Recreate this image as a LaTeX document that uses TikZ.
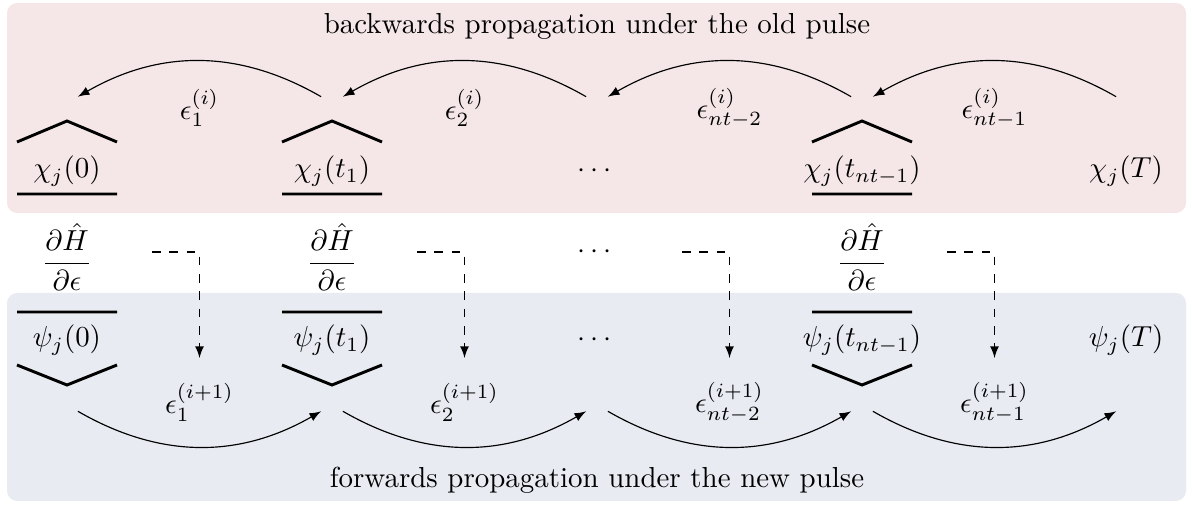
\documentclass[tikz,border=0pt]{standalone}
\usepackage{amsmath}

\definecolor{bwdcol}{RGB}{245,231,232}
\definecolor{fwdcol}{RGB}{232,235,242}

\tikzstyle{bwdbox} = [fill=bwdcol, rounded corners=3.5pt]
\tikzstyle{fwdbox} = [fill=fwdcol, rounded corners=3.5pt]
\tikzstyle{hat} = [line width=1pt]
\tikzstyle{deriv} = [inner sep=0pt]
\tikzstyle{arrowend} = [circle, minimum size=8.3pt, inner sep=0pt]
\tikzstyle{prop} = [->, >=latex, bend right=30]
\tikzstyle{feed} = [->, >=latex, dashed]

\begin{document}
\begin{tikzpicture}[x=0.3456pt, y=-0.3456pt]
\useasboundingbox (0,0) rectangle (1192,505);
% the two regions
\fill[bwdbox] (7,3) rectangle (1186,213);
\fill[fwdbox] (7,293) rectangle (1186,501);
\node[anchor=base] (bwdtitle) at (597,34) {backwards propagation under the old pulse};
\node[anchor=base] (fwdtitle) at (597,488) {forwards propagation under the new pulse};

% backward states
\node[anchor=base] (chi0) at (67,178) {$\chi_j(0)$};
\node[anchor=base] (chi1) at (332,178) {$\chi_j(t_1)$};
\node[anchor=base] (chidots) at (597,178) {$\cdots$};
\node[anchor=base] (chi3) at (862,178) {$\chi_j(t_{nt-1})$};
\node[anchor=base] (chiT) at (1126,178) {$\chi_j(T)$};

% forward states
\node[anchor=base] (psi0) at (67,347) {$\psi_j(0)$};
\node[anchor=base] (psi1) at (332,347) {$\psi_j(t_1)$};
\node[anchor=base] (psidots) at (597,347) {$\cdots$};
\node[anchor=base] (psi3) at (862,347) {$\psi_j(t_{nt-1})$};
\node[anchor=base] (psiT) at (1126,347) {$\psi_j(T)$};

% derivative of the Hamiltonian
\node[deriv] (dH0) at (67,257) {$\dfrac{\partial\hat{H}}{\partial\epsilon}$};
\node[deriv] (dH1) at (332,257) {$\dfrac{\partial\hat{H}}{\partial\epsilon}$};
\node[anchor=base] (dHdots) at (597,258.7) {$\cdots$};
\node[deriv] (dH3) at (862,257) {$\dfrac{\partial\hat{H}}{\partial\epsilon}$};

% hats and bars
\draw[hat] (17,142) -- (67,121) -- (117,142) (17,194) -- (117,194);
\draw[hat] (282,142) -- (332,121) -- (382,142) (282,194) -- (382,194);
\draw[hat] (812,142) -- (862,121) -- (912,142) (812,194) -- (912,194);
\draw[hat] (17,312) -- (117,312) (17,365) -- (67,385) -- (117,365);
\draw[hat] (282,312) -- (382,312) (282,365) -- (332,385) -- (382,365);
\draw[hat] (812,312) -- (912,312) (812,365) -- (862,385) -- (912,365);

% ends of the propagation arrows
\node[arrowend] (bw0) at (67,103) {};
\node[arrowend] (bw1) at (332,103) {};
\node[arrowend] (bw2) at (597,103) {};
\node[arrowend] (bw3) at (862,103) {};
\node[arrowend] (bw4) at (1127,103) {};
\node[arrowend] (fw0) at (67,405) {};
\node[arrowend] (fw1) at (332,405) {};
\node[arrowend] (fw2) at (597,405) {};
\node[arrowend] (fw3) at (862,405) {};
\node[arrowend] (fw4) at (1127,405) {};

\draw[prop] (bw1) to (bw0);
\draw[prop] (bw2) to (bw1);
\draw[prop] (bw3) to (bw2);
\draw[prop] (bw4) to (bw3);
\draw[prop] (fw0) to (fw1);
\draw[prop] (fw1) to (fw2);
\draw[prop] (fw2) to (fw3);
\draw[prop] (fw3) to (fw4);

% pulses
\node (eb1) at (199.5,108) {$\epsilon_1^{(i)}$};
\node (eb2) at (464.5,108) {$\epsilon_2^{(i)}$};
\node (eb3) at (729.5,108) {$\epsilon_{nt-2}^{(i)}$};
\node (eb4) at (994.5,108) {$\epsilon_{nt-1}^{(i)}$};
\node (ef1) at (199.5,402.5) {$\epsilon_1^{(i+1)}$};
\node (ef2) at (464.5,402.5) {$\epsilon_2^{(i+1)}$};
\node (ef3) at (729.5,402.5) {$\epsilon_{nt-2}^{(i+1)}$};
\node (ef4) at (994.5,402.5) {$\epsilon_{nt-1}^{(i+1)}$};

% feedback into the new pulse
\coordinate (fb0) at (152,252);
\coordinate (fe0) at (199.5,358);
\coordinate (fb1) at (417,252);
\coordinate (fe1) at (464.5,358);
\coordinate (fb2) at (682,252);
\coordinate (fe2) at (729.5,358);
\coordinate (fb3) at (947,252);
\coordinate (fe3) at (994.5,358);
\draw[feed] (fb0) -| (fe0);
\draw[feed] (fb1) -| (fe1);
\draw[feed] (fb2) -| (fe2);
\draw[feed] (fb3) -| (fe3);
\end{tikzpicture}
\end{document}
